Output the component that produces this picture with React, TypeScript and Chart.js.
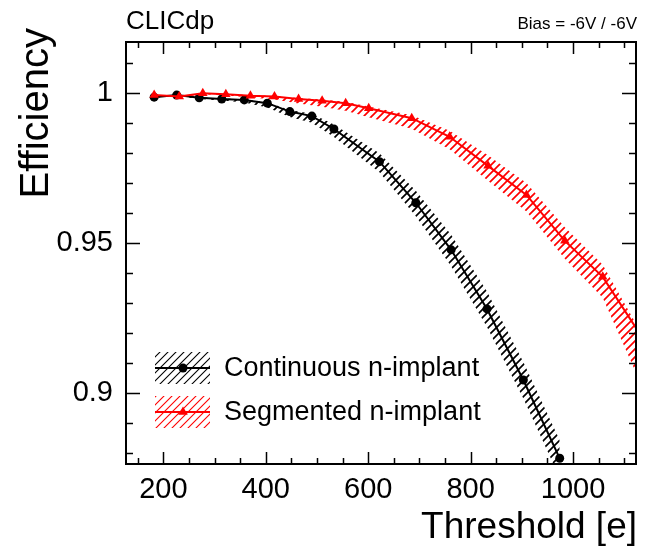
import React, { useEffect, useRef } from 'react';
import { Chart, registerables } from 'chart.js';

Chart.register(...registerables);

// ---- data ----
const contThreshold = [182, 226, 270, 314, 358, 403, 447, 490, 533, 622, 693, 762, 832, 903, 974];
const contEff = [0.9986, 0.9993, 0.9984, 0.998, 0.9977, 0.9966, 0.9938, 0.9923, 0.988, 0.9771, 0.9634, 0.9477, 0.928, 0.9043, 0.8782];
const contErrUp = [0.0002, 0.0002, 0.0002, 0.0002, 0.0002, 0.0003, 0.0005, 0.0008, 0.0015, 0.0028, 0.004, 0.005, 0.0058, 0.006, 0.006];
const contErrDown = [0.0003, 0.0003, 0.0004, 0.0005, 0.0009, 0.0014, 0.0018, 0.0022, 0.0027, 0.0035, 0.0045, 0.0055, 0.006, 0.0062, 0.0065];

const segThreshold = [182, 231, 277, 322, 370, 417, 464, 510, 556, 601, 685, 759, 834, 909, 984, 1058, 1132];
const segEff = [0.9993, 0.9988, 0.9999, 0.9996, 0.9991, 0.9988, 0.998, 0.9974, 0.9966, 0.9949, 0.9916, 0.9854, 0.9757, 0.966, 0.9507, 0.9387, 0.9193];
const segErrUp = [0.0001, 0.0001, 0.0001, 0.0001, 0.0002, 0.0002, 0.0003, 0.0004, 0.0005, 0.0006, 0.001, 0.002, 0.0035, 0.004, 0.0045, 0.004, 0.001];
const segErrDown = [0.0002, 0.0002, 0.0003, 0.0004, 0.0006, 0.001, 0.0015, 0.002, 0.0025, 0.003, 0.0035, 0.0042, 0.005, 0.0055, 0.006, 0.007, 0.016];

const xTickLabels = [200, 400, 600, 800, 1000];
const yTickLabels = [0.9, 0.95, 1];
const xRange = [127, 1123];
const yRange = [0.8763, 1.017];

const seriesNames = ['Continuous n-implant', 'Segmented n-implant'];
const FONT = "'Liberation Sans', Arial, Helvetica, sans-serif";

function makeHatch(color: string, s: number, lw: number): CanvasPattern | string {
  const c = document.createElement('canvas');
  c.width = s;
  c.height = s;
  const g = c.getContext('2d');
  if (!g) return color;
  g.strokeStyle = color;
  g.lineWidth = lw;
  g.beginPath();
  g.moveTo(-1, s + 1);
  g.lineTo(s + 1, -1);
  g.moveTo(-1, 1);
  g.lineTo(1, -1);
  g.moveTo(s - 1, s + 1);
  g.lineTo(s + 1, s - 1);
  g.stroke();
  return g.createPattern(c, 'repeat') || color;
}

function pts(xs: number[], ys: number[], d: number[] | null, sign: number) {
  return xs.map((x, i) => ({ x, y: ys[i] + (d ? sign * d[i] : 0) }));
}

function drawTriangle(ctx: CanvasRenderingContext2D, x: number, y: number, r: number) {
  ctx.beginPath();
  let a = 0;
  ctx.moveTo(x + Math.sin(a) * r, y - Math.cos(a) * r);
  a += (2 * Math.PI) / 3;
  ctx.lineTo(x + Math.sin(a) * r, y - Math.cos(a) * r);
  a += (2 * Math.PI) / 3;
  ctx.lineTo(x + Math.sin(a) * r, y - Math.cos(a) * r);
  ctx.closePath();
  ctx.fill();
}

export default function App() {
  const ref = useRef<HTMLCanvasElement | null>(null);

  useEffect(() => {
    if (!ref.current) return;
    const blackHatch = makeHatch('#000000', 8, 1.7);
    const redHatch = makeHatch('#ff0000', 8, 1.7);
    const blackHatchLeg = makeHatch('#000000', 8, 1.1);
    const redHatchLeg = makeHatch('#ff0000', 8, 1.1);

    const framePlugin = {
      id: 'frameTicks',
      afterDatasetsDraw(chart: any) {
        const { ctx, chartArea, scales } = chart;
        const { left, right, top, bottom } = chartArea;
        const xs = scales.x;
        const ys = scales.y;
        ctx.save();
        ctx.strokeStyle = '#000';
        ctx.lineWidth = 2;
        ctx.strokeRect(left, top, right - left, bottom - top);
        ctx.lineWidth = 1.5;
        ctx.beginPath();
        for (let v = 150; v <= 1100; v += 50) {
          const p = Math.round(xs.getPixelForValue(v)) + 0.5;
          if (p <= left || p >= right) continue;
          const len = v % 200 === 0 ? 12 : 6;
          ctx.moveTo(p, bottom);
          ctx.lineTo(p, bottom - len);
          ctx.moveTo(p, top);
          ctx.lineTo(p, top + len);
        }
        for (let k = 88; k <= 101; k++) {
          const v = k / 100;
          const p = Math.round(ys.getPixelForValue(v)) + 0.5;
          if (p <= top || p >= bottom) continue;
          const len = k % 5 === 0 ? 14 : 7;
          ctx.moveTo(left, p);
          ctx.lineTo(left + len, p);
          ctx.moveTo(right, p);
          ctx.lineTo(right - len, p);
        }
        ctx.stroke();
        ctx.restore();
      },
      afterDraw(chart: any) {
        const { ctx, chartArea } = chart;
        ctx.save();
        ctx.fillStyle = '#000';
        ctx.font = `26px ${FONT}`;
        ctx.textAlign = 'left';
        ctx.textBaseline = 'alphabetic';
        ctx.fillText('CLICdp', chartArea.left, 29);
        ctx.font = `17px ${FONT}`;
        ctx.textAlign = 'right';
        ctx.fillText('Bias = -6V / -6V', chartArea.right + 1, 29);
        ctx.font = `37px ${FONT}`;
        ctx.textAlign = 'right';
        ctx.fillText('Threshold [e]', chartArea.right + 1, 538);
        ctx.save();
        ctx.translate(48, 28);
        ctx.rotate(-Math.PI / 2);
        ctx.font = `40px ${FONT}`;
        ctx.textAlign = 'right';
        ctx.fillText('Efficiency', 0, 0);
        ctx.restore();

        const entries = [
          { y: 368, hatch: blackHatchLeg, color: '#000000', marker: 'circle', label: seriesNames[0] },
          { y: 412, hatch: redHatchLeg, color: '#ff0000', marker: 'triangle', label: seriesNames[1] },
        ];
        for (const e of entries) {
          ctx.fillStyle = e.hatch as any;
          ctx.fillRect(155, e.y - 16, 55, 32);
          ctx.strokeStyle = e.color;
          ctx.lineWidth = 2;
          ctx.beginPath();
          ctx.moveTo(155, e.y);
          ctx.lineTo(210, e.y);
          ctx.stroke();
          ctx.fillStyle = e.color;
          if (e.marker === 'circle') {
            ctx.beginPath();
            ctx.arc(183, e.y, 4.5, 0, Math.PI * 2);
            ctx.fill();
          } else {
            drawTriangle(ctx, 183, e.y, 5.5);
          }
          ctx.fillStyle = '#000';
          ctx.font = `27px ${FONT}`;
          ctx.textAlign = 'left';
          ctx.textBaseline = 'middle';
          ctx.fillText(e.label, 224, e.y + 1);
          ctx.textBaseline = 'alphabetic';
        }
        ctx.restore();
      },
    };

    const chart = new Chart(ref.current, {
      type: 'line',
      data: {
        datasets: [
          {
            label: 'seg-band-low',
            data: pts(segThreshold, segEff, segErrDown, -1),
            borderWidth: 0,
            pointRadius: 0,
            fill: false,
            order: 3,
          } as any,
          {
            label: 'seg-band-high',
            data: pts(segThreshold, segEff, segErrUp, 1),
            borderWidth: 0,
            pointRadius: 0,
            fill: '-1',
            backgroundColor: redHatch,
            order: 3,
          } as any,
          {
            label: 'cont-band-low',
            data: pts(contThreshold, contEff, contErrDown, -1),
            borderWidth: 0,
            pointRadius: 0,
            fill: false,
            order: 4,
          } as any,
          {
            label: 'cont-band-high',
            data: pts(contThreshold, contEff, contErrUp, 1),
            borderWidth: 0,
            pointRadius: 0,
            fill: '-1',
            backgroundColor: blackHatch,
            order: 4,
          } as any,
          {
            label: seriesNames[0],
            data: pts(contThreshold, contEff, null, 0),
            borderColor: '#000000',
            backgroundColor: '#000000',
            borderWidth: 2,
            pointStyle: 'circle',
            pointRadius: 4.5,
            pointBorderWidth: 0,
            pointBackgroundColor: '#000000',
            fill: false,
            tension: 0,
            order: 2,
          } as any,
          {
            label: seriesNames[1],
            data: pts(segThreshold, segEff, null, 0),
            borderColor: '#ff0000',
            backgroundColor: '#ff0000',
            borderWidth: 2,
            pointStyle: 'triangle',
            pointRadius: 5.5,
            pointBorderWidth: 0,
            pointBackgroundColor: '#ff0000',
            fill: false,
            tension: 0,
            order: 1,
          } as any,
        ],
      },
      options: {
        animation: false,
        responsive: true,
        maintainAspectRatio: false,
        parsing: false as any,
        layout: { padding: { top: 42, right: 20, left: 0, bottom: 0 } },
        plugins: {
          legend: { display: false },
          tooltip: { enabled: false },
          title: { display: false },
        },
        scales: {
          x: {
            type: 'linear',
            min: xRange[0],
            max: xRange[1],
            grid: { display: false, drawTicks: false },
            border: { display: false },
            afterBuildTicks: (s: any) => {
              s.ticks = xTickLabels.map((v) => ({ value: v }));
            },
            afterFit: (s: any) => {
              s.height = 85;
            },
            ticks: {
              color: '#000',
              padding: 9,
              maxRotation: 0,
              autoSkip: false,
              font: { family: FONT, size: 29 },
              callback: (v: any) => String(v),
            },
          },
          y: {
            type: 'linear',
            min: yRange[0],
            max: yRange[1],
            grid: { display: false, drawTicks: false },
            border: { display: false },
            afterBuildTicks: (s: any) => {
              s.ticks = yTickLabels.map((v) => ({ value: v }));
            },
            afterFit: (s: any) => {
              s.width = 126;
            },
            ticks: {
              color: '#000',
              padding: 13,
              autoSkip: false,
              font: { family: FONT, size: 29 },
              callback: (v: any) => String(v),
            },
          },
        },
      },
      plugins: [framePlugin],
    });
    return () => chart.destroy();
  }, []);

  return (
    <div style={{ position: 'fixed', left: 0, top: 0, width: 656, height: 549, background: '#fff' }}>
      <canvas ref={ref} />
    </div>
  );
}
